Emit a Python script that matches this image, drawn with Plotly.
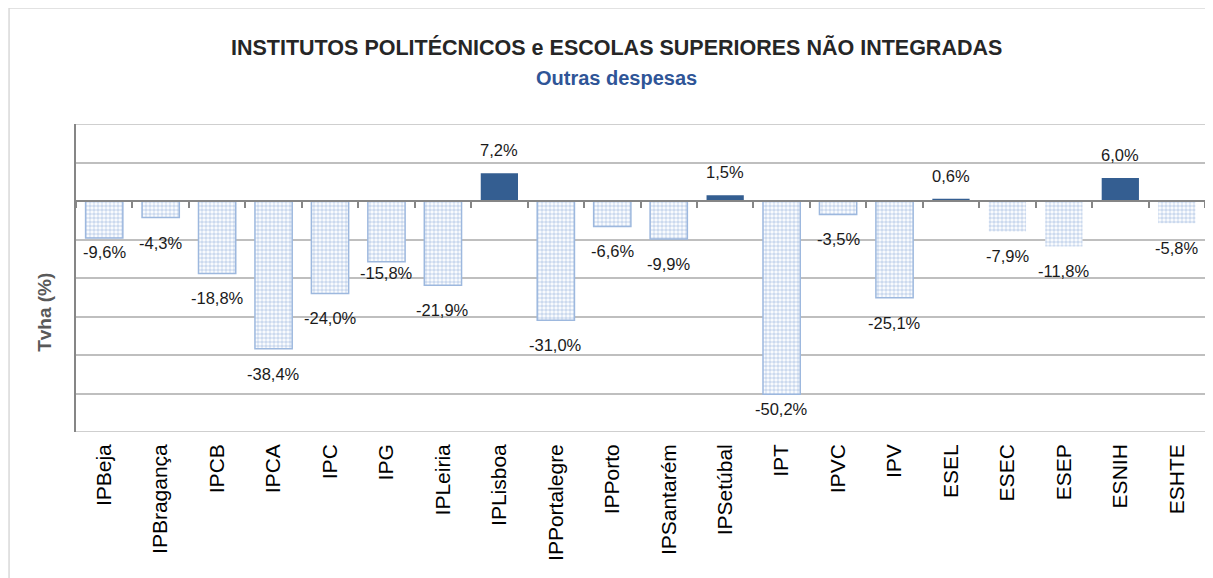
import plotly.graph_objects as go

categories = ["IPBeja", "IPBragança", "IPCB", "IPCA", "IPC", "IPG", "IPLeiria", "IPLisboa",
              "IPPortalegre", "IPPorto", "IPSantarém", "IPSetúbal", "IPT", "IPVC", "IPV",
              "ESEL", "ESEC", "ESEP", "ESNIH", "ESHTE"]
values = [-9.6, -4.3, -18.8, -38.4, -24.0, -15.8, -21.9, 7.2, -31.0, -6.6, -9.9, 1.5,
          -50.2, -3.5, -25.1, 0.6, -7.9, -11.8, 6.0, -5.8]
# last negative bars drawn without outline in the reference
no_outline = ["ESEC", "ESEP", "ESHTE"]

title = "INSTITUTOS POLITÉCNICOS e ESCOLAS SUPERIORES NÃO INTEGRADAS"
subtitle = "Outras despesas"
y_title = "Tvha (%)"

# styling: label placement tweaks (pixels) for labels moved off gridlines
label_nudge = {"IPBeja": 11, "IPG": 14, "IPT": 10}

FONT = "Liberation Sans, Arial"
DARK = "#345E91"
LIGHT = "#9DB8DE"
PAT = "#9AB6DE"

pos_x = [c for c, v in zip(categories, values) if v >= 0]
pos_y = [v for v in values if v >= 0]
neg_x = [c for c, v in zip(categories, values) if v < 0]
neg_y = [v for v in values if v < 0]
neg_line = ["rgba(0,0,0,0)" if c in no_outline else LIGHT for c in neg_x]

fig = go.Figure()
fig.add_trace(go.Bar(x=neg_x, y=neg_y, width=0.66,
                     marker=dict(color="white", line=dict(color=neg_line, width=1.5),
                                 pattern=dict(shape=".", fgcolor=PAT, bgcolor="white",
                                              size=4, solidity=0.65, fillmode="overlay")),
                     hoverinfo="skip", showlegend=False))
fig.add_trace(go.Bar(x=pos_x, y=pos_y, width=0.66,
                     marker=dict(color=DARK, line=dict(color=DARK, width=0)),
                     hoverinfo="skip", showlegend=False))
# invisible trace carrying the zero-line axis with boundary ticks
fig.add_trace(go.Scatter(x=categories, y=[0] * len(categories), xaxis="x2", mode="lines",
                         line=dict(width=0), hoverinfo="skip", showlegend=False))

for c, v in zip(categories, values):
    txt = f"{v:.1f}%".replace(".", ",")
    if v >= 0:
        ys = 12
    else:
        ys = -14 + label_nudge.get(c, 0)
    fig.add_annotation(x=c, y=v, text=txt, showarrow=False,
                       yanchor="bottom" if v >= 0 else "top", yshift=ys,
                       font=dict(family=FONT, size=16.5, color="#1a1a1a"))

fig.add_annotation(xref="paper", yref="paper", x=0.479, y=1.25, text=f"<b>{title}</b>",
                   xanchor="center", yanchor="middle",
                   showarrow=False, font=dict(family=FONT, size=21.5, color="#262626"))
fig.add_annotation(xref="paper", yref="paper", x=0.479, y=1.149, text=f"<b>{subtitle}</b>",
                   xanchor="center", yanchor="middle",
                   showarrow=False, font=dict(family=FONT, size=20, color="#2F5597"))
fig.add_annotation(xref="paper", yref="paper", x=-0.0275, y=0.39, text=f"<b>{y_title}</b>",
                   xanchor="center", yanchor="middle", textangle=-90,
                   showarrow=False, font=dict(family=FONT, size=19, color="#595959"))

# outer chart frame
fig.add_shape(type="rect", xref="paper", yref="paper", x0=-0.0593, y0=-0.6, x1=1.03, y1=1.3766,
              line=dict(color="#D9D9D9", width=1.5), layer="below")
# top and bottom gridlines at the range edges
for yv in (20, -60):
    fig.add_shape(type="line", xref="paper", yref="y", x0=0, x1=1, y0=yv, y1=yv,
                  line=dict(color="#BFBFBF", width=1.5), layer="below")

fig.update_layout(
    width=1213, height=578,
    margin=dict(l=68, r=16, t=116, b=154),
    paper_bgcolor="white", plot_bgcolor="white",
    barmode="overlay",
    font=dict(family=FONT, size=15, color="black"),
    xaxis=dict(categoryorder="array", categoryarray=categories, tickangle=-90,
               showline=False, ticks="", showgrid=False, tickfont=dict(size=21, color="black"),
               ticklabelstandoff=7,
               range=[-0.5, len(categories) - 0.5], automargin=False),
    xaxis2=dict(overlaying="x", anchor="free", position=0.75, categoryorder="array",
                categoryarray=categories, showline=True, linecolor="#868686", linewidth=2,
                ticks="outside", tickson="boundaries", ticklen=6, tickcolor="#868686",
                tickwidth=2, showticklabels=False, showgrid=False,
                range=[-0.5, len(categories) - 0.5], automargin=False),
    yaxis=dict(range=[-60, 20], dtick=10, showticklabels=False, showgrid=True,
               gridcolor="#BFBFBF", gridwidth=1.5, zeroline=False, showline=True,
               linecolor="#868686", linewidth=1.5, ticks="", automargin=False),
)
fig.write_html("out.html")
